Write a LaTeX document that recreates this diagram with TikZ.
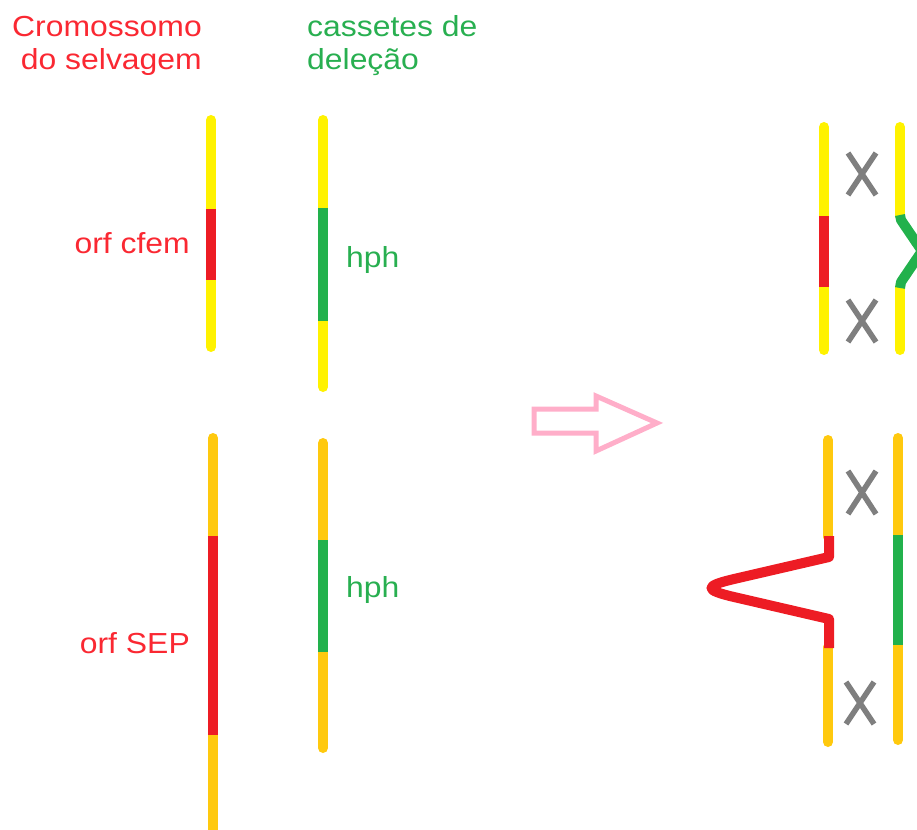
\documentclass[tikz,border=0pt]{standalone}
\usepackage{fontspec}
\setmainfont{Liberation Sans}[FakeStretch=1.1]
\definecolor{cyel}{RGB}{255,242,0}
\definecolor{corg}{RGB}{255,201,14}
\definecolor{cred}{RGB}{237,28,36}
\definecolor{cgrn}{RGB}{34,177,76}
\definecolor{cpink}{RGB}{255,174,201}
\definecolor{cgray}{RGB}{127,127,127}
\definecolor{tred}{RGB}{250,40,50}
\definecolor{tgrn}{RGB}{40,175,80}
\tikzset{
  lbl/.style={inner sep=0pt, font=\fontsize{29}{33}\selectfont},
  tr/.style={lbl, text=tred},
  tg/.style={lbl, text=tgrn},
  chrom/.style={line width=10pt, line cap=round},
  seg/.style={line width=10pt, line cap=butt},
  xmk/.style={cgray, line width=5.5pt},
  bigarrow/.style={cpink, line width=5pt, line join=miter}
}
\begin{document}
\begin{tikzpicture}[x=1pt,y=-1pt]
\useasboundingbox (0,0) rectangle (917,829);
\clip (0,0) rectangle (917,829);
% titles
\node[tr, anchor=base east] (t1) at (202,37) {Cromossomo};
\node[tr, anchor=base east] (t2) at (202,70) {do selvagem};
\node[tg, anchor=base west] (t3) at (307,37) {cassetes de};
\node[tg, anchor=base west] (t4) at (307,70) {deleção};
% labels
\node[tr, anchor=base east] (orf1) at (190,253) {orf cfem};
\node[tg, anchor=base west] (h1) at (346,267) {hph};
\node[tr, anchor=base east] (orf2) at (190,653) {orf SEP};
\node[tg, anchor=base west] (h2) at (346,597) {hph};
% top wild-type chromosome
\draw[chrom, cyel] (211,120) -- (211,347);
\draw[seg, cred] (211,209) -- (211,280);
% top cassette
\draw[chrom, cyel] (323,120) -- (323,387);
\draw[seg, cgrn] (323,208) -- (323,321);
% bottom wild-type chromosome
\draw[chrom, corg] (213,438) -- (213,840);
\draw[seg, cred] (213,536) -- (213,735);
% bottom cassette
\draw[chrom, corg] (323,443) -- (323,748);
\draw[seg, cgrn] (323,540) -- (323,652);
% arrow
\draw[bigarrow] (534,409) -- (596,409) -- (596,396) -- (657,423) -- (596,451) -- (596,433) -- (534,433) -- cycle;
% top right
\draw[chrom, cyel] (824,127) -- (824,350);
\draw[seg, cred] (824,216) -- (824,287);
\draw[chrom, cyel] (900,127) -- (900,216);
\draw[chrom, cyel] (900,287) -- (900,350);
\draw[seg, cgrn, line join=round] (900,215) -- (901,220) -- (922,251) -- (901,282) -- (900,288);
\draw[xmk] (848,153) -- (876,195) (848,195) -- (876,153);
\draw[xmk] (848,300) -- (876,342) (848,342) -- (876,300);
% bottom right
\draw[chrom, corg] (828,440) -- (828,537);
\draw[chrom, corg] (828,647) -- (828,742);
\draw[seg, cred, line join=round] (829,536) -- (829,557) -- (734,579) .. controls (704,586) and (704,590) .. (734,597) -- (829,619) -- (829,648);
\draw[chrom, corg] (898,438) -- (898,740);
\draw[seg, cgrn] (898,535) -- (898,645);
\draw[xmk] (848,471) -- (876,514) (848,514) -- (876,471);
\draw[xmk] (846,682) -- (874,724) (846,724) -- (874,682);
\end{tikzpicture}
\end{document}
